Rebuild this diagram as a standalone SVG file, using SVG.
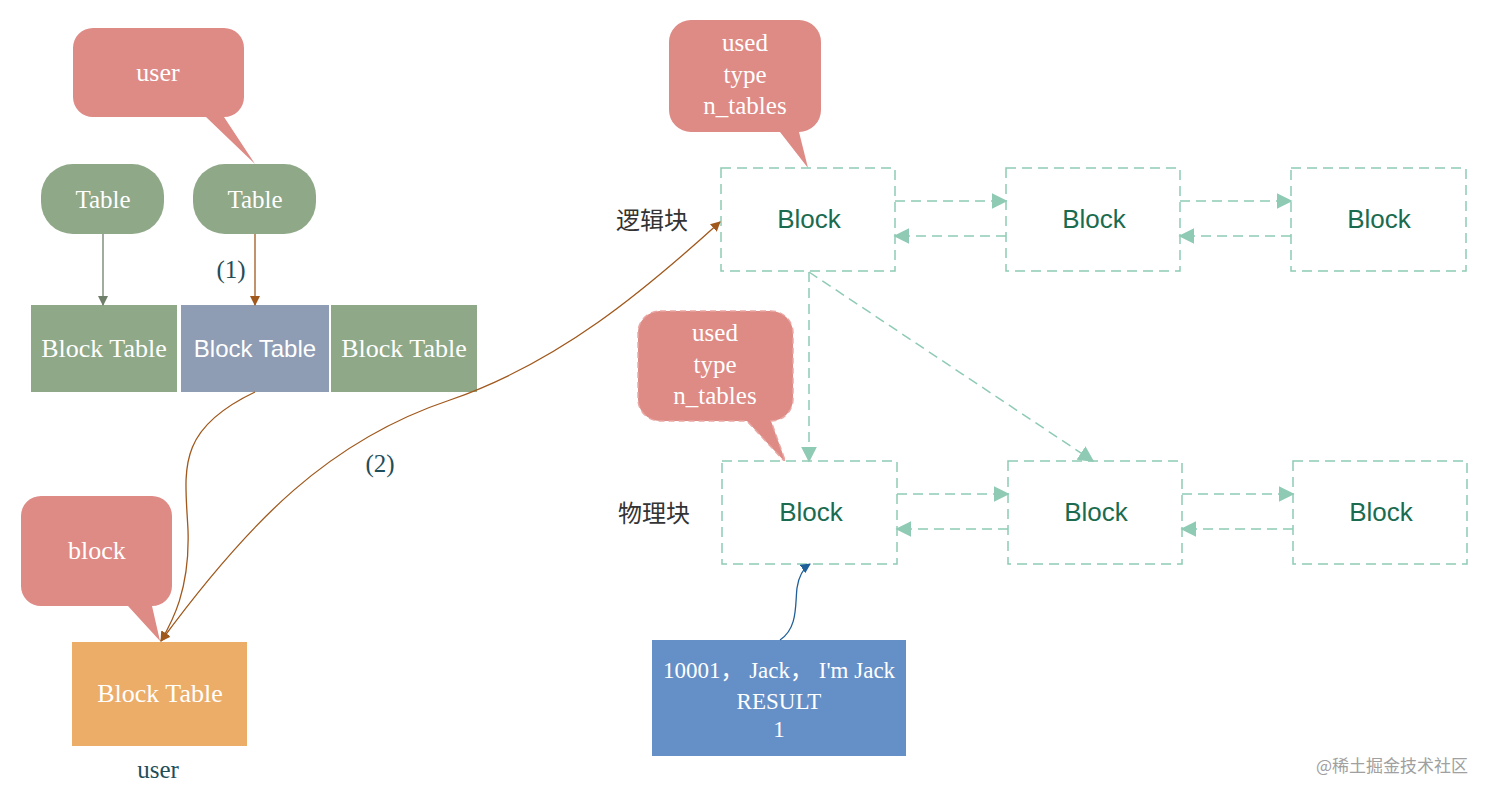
<svg xmlns="http://www.w3.org/2000/svg" width="1494" height="798" viewBox="0 0 1494 798">
<style>
.serif{font-family:"Liberation Serif","Noto Sans CJK SC",serif}
.sans{font-family:"Liberation Sans",Arial,sans-serif}
.wt{fill:#ffffff;text-anchor:middle}
.call{fill:#de8a85}
.blk{fill:#fff;stroke:#8fcbb4;stroke-width:1.5;stroke-dasharray:10,6}
.blkt{fill:#1a6b4f;font-size:26px;text-anchor:middle}
.dash{fill:none;stroke:#8fcbb4;stroke-width:1.5;stroke-dasharray:10,6}
.lbl{fill:#1f4e5a;font-size:25px;text-anchor:middle}
</style>
<defs>
<marker id="aGray" viewBox="0 0 10 10" refX="9" refY="5" markerWidth="10" markerHeight="10" markerUnits="userSpaceOnUse" orient="auto"><path d="M0,0 L10,5 L0,10 Z" fill="#6f7f6a"/></marker>
<marker id="aBrown" viewBox="0 0 10 10" refX="9" refY="5" markerWidth="10" markerHeight="10" markerUnits="userSpaceOnUse" orient="auto-start-reverse"><path d="M0,0 L10,5 L0,10 Z" fill="#a0581c"/></marker>
<marker id="aTeal" viewBox="0 0 10 10" refX="9" refY="5" markerWidth="16" markerHeight="16" markerUnits="userSpaceOnUse" orient="auto"><path d="M0,0 L10,5 L0,10 Z" fill="#8fcbb4"/></marker>
<marker id="aBlue" viewBox="0 0 10 10" refX="9" refY="5" markerWidth="10" markerHeight="10" markerUnits="userSpaceOnUse" orient="auto"><path d="M0,0 L10,5 L0,10 Z" fill="#1f5f99"/></marker>
</defs>
<rect width="1494" height="798" fill="#ffffff"/>

<g id="callout-user">
<path class="call" d="M93,28 H224 A20,20 0 0 1 244,48 V97 A20,20 0 0 1 224,117 L255,164 L206,117 H93 A20,20 0 0 1 73,97 V48 A20,20 0 0 1 93,28 Z"/>
<text class="serif wt" x="158" y="81" font-size="26">user</text>
</g>
<g id="table1">
<rect x="41" y="164" width="123" height="70" rx="32" fill="#8fa888"/>
<text class="serif wt" x="103" y="208" font-size="25">Table</text>
</g>
<g id="table2">
<rect x="193" y="164" width="123" height="70" rx="32" fill="#8fa888"/>
<text class="serif wt" x="255" y="208" font-size="25">Table</text>
</g>
<g id="bt1">
<rect x="31" y="305" width="146" height="87" fill="#8fa888"/>
<text class="serif wt" x="104" y="357" font-size="26">Block Table</text>
</g>
<g id="bt2">
<rect x="181" y="305" width="148" height="87" fill="#8e9cb4"/>
<text class="sans wt" x="255" y="357" font-size="24">Block Table</text>
</g>
<g id="bt3">
<rect x="331" y="305" width="146" height="87" fill="#8fa888"/>
<text class="serif wt" x="404" y="357" font-size="26">Block Table</text>
</g>
<g id="callout-block">
<path class="call" d="M41,496 H152 A20,20 0 0 1 172,516 V586 A20,20 0 0 1 152,606 L160,641 L128,606 H41 A20,20 0 0 1 21,586 V516 A20,20 0 0 1 41,496 Z"/>
<text class="serif wt" x="97" y="559" font-size="26">block</text>
</g>
<g id="bt-user">
<rect x="72" y="642" width="175" height="104" fill="#ecad69"/>
<text class="serif wt" x="160" y="702" font-size="26">Block Table</text>
<text class="serif lbl" x="158" y="778" font-size="26">user</text>
</g>

<g id="callout-logic">
<path class="call" d="M691,20 H799 A22,22 0 0 1 821,42 V110 A22,22 0 0 1 799,132 L808,168 L780,132 H691 A22,22 0 0 1 669,110 V42 A22,22 0 0 1 691,20 Z"/>
<text class="serif wt" x="745" y="51" font-size="25">used</text>
<text class="serif wt" x="745" y="83" font-size="25">type</text>
<text class="serif wt" x="745" y="114" font-size="25">n_tables</text>
</g>
<g id="callout-phys">
<path class="call" d="M660,311 H771 A22,22 0 0 1 793,333 V399 A22,22 0 0 1 771,421 L786,463 L747,421 H660 A22,22 0 0 1 638,399 V333 A22,22 0 0 1 660,311 Z" stroke="#e9a6a2" stroke-width="1.5" stroke-dasharray="6,4"/>
<text class="serif wt" x="715" y="341" font-size="25">used</text>
<text class="serif wt" x="715" y="373" font-size="25">type</text>
<text class="serif wt" x="715" y="404" font-size="25">n_tables</text>
</g>
<g id="label-logic"><text class="serif" x="652" y="229" font-size="24" fill="#333333" text-anchor="middle">逻辑块</text></g>
<g id="label-phys"><text class="serif" x="654" y="522" font-size="24" fill="#333333" text-anchor="middle">物理块</text></g>

<g id="lb1"><rect class="blk" x="721" y="168" width="174" height="103"/><text class="sans blkt" x="809" y="228">Block</text></g>
<g id="lb2"><rect class="blk" x="1006" y="168" width="174" height="103"/><text class="sans blkt" x="1094" y="228">Block</text></g>
<g id="lb3"><rect class="blk" x="1291" y="168" width="175" height="103"/><text class="sans blkt" x="1379" y="228">Block</text></g>
<g id="pb1"><rect class="blk" x="722" y="461" width="175" height="103"/><text class="sans blkt" x="811" y="521">Block</text></g>
<g id="pb2"><rect class="blk" x="1008" y="461" width="174" height="103"/><text class="sans blkt" x="1096" y="521">Block</text></g>
<g id="pb3"><rect class="blk" x="1293" y="461" width="174" height="103"/><text class="sans blkt" x="1381" y="521">Block</text></g>

<g id="result">
<rect x="652" y="640" width="254" height="116" fill="#6590c7"/>
<text class="serif wt" x="779" y="678" font-size="23">10001， Jack， I'm Jack</text>
<text class="serif wt" x="779" y="709" font-size="23">RESULT</text>
<text class="serif wt" x="779" y="737" font-size="23">1</text>
</g>

<g id="connectors">
<path d="M103,234 V305" stroke="#6f7f6a" stroke-width="1.3" fill="none" marker-end="url(#aGray)"/>
<path d="M255,234 V305" stroke="#a0581c" stroke-width="1.3" fill="none" marker-end="url(#aBrown)"/>
<text class="serif lbl" x="231" y="278">(1)</text>
<path d="M255,392 C175,430 185,470 188,530 C190,590 172,622 161,641" stroke="#a0581c" stroke-width="1.3" fill="none" marker-end="url(#aBrown)"/>
<path d="M161,641 C250,520 330,440 450,400 C560,362 645,290 720,222" stroke="#a0581c" stroke-width="1.3" fill="none" marker-start="url(#aBrown)" marker-end="url(#aBrown)"/>
<text class="serif lbl" x="380" y="472">(2)</text>

<path class="dash" d="M895,201 H1006" marker-end="url(#aTeal)"/>
<path class="dash" d="M1006,236 H895" marker-end="url(#aTeal)"/>
<path class="dash" d="M1180,201 H1291" marker-end="url(#aTeal)"/>
<path class="dash" d="M1291,236 H1180" marker-end="url(#aTeal)"/>
<path class="dash" d="M897,494 H1008" marker-end="url(#aTeal)"/>
<path class="dash" d="M1008,529 H897" marker-end="url(#aTeal)"/>
<path class="dash" d="M1182,494 H1293" marker-end="url(#aTeal)"/>
<path class="dash" d="M1293,529 H1182" marker-end="url(#aTeal)"/>
<path class="dash" d="M809,272 V461" marker-end="url(#aTeal)"/>
<path class="dash" d="M809,272 L1093,461" marker-end="url(#aTeal)"/>

<path d="M780,640 C798,628 795,605 797,588 C799,574 804,568 810,564" stroke="#1f5f99" stroke-width="1.3" fill="none" marker-end="url(#aBlue)"/>
</g>

<text x="1392" y="772" font-family="'Noto Sans CJK SC',sans-serif" font-size="17" fill="#a0a0a0" text-anchor="middle">@稀土掘金技术社区</text>
</svg>
